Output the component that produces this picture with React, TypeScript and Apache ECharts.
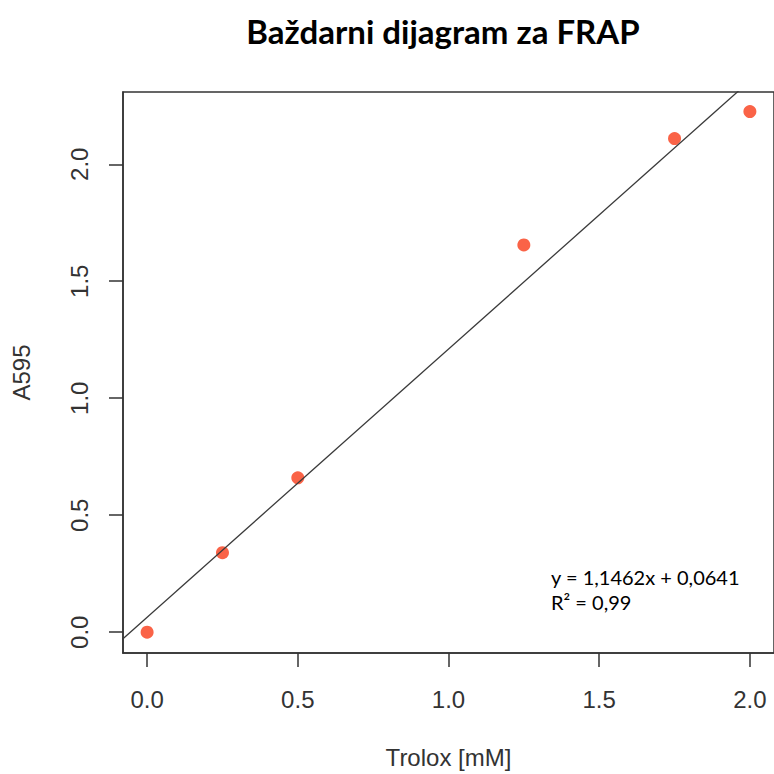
import React, { useEffect, useRef } from "react";
import * as echarts from "echarts";

const titleText = "Baždarni dijagram za FRAP";
const xName = "Trolox [mM]";
const yName = "A595";
const xValues = [0, 0.25, 0.5, 1.25, 1.75, 2.0];
const yValues = [0, 0.34, 0.66, 1.655, 2.11, 2.225];
const xTicks = [0, 0.5, 1.0, 1.5, 2.0];
const yTicks = [0, 0.5, 1.0, 1.5, 2.0];
const slope = 1.1462;
const intercept = 0.0641;
const fitX = [-0.2, 2.2];
const eqLine1 = "y = 1,1462x + 0,0641";
const eqLine2 = "R² = 0,99";

export default function App() {
  const ref = useRef<HTMLDivElement>(null);
  useEffect(() => {
    if (!ref.current) return;
    const chart = echarts.init(ref.current, null, { renderer: "svg" });
    const xMin = -0.08, xMax = 2.08;
    const yMin = -0.0888, yMax = 2.3088;
    const fitData = fitX.map((x) => [x, slope * x + intercept]);
    chart.setOption({
      animation: false,
      backgroundColor: "#ffffff",
      title: {
        text: titleText,
        left: 438,
        textAlign: "center",
        top: 9,
        textStyle: { fontFamily: "Lato", fontWeight: "bold", fontSize: 33, color: "#000" },
      },
      grid: {
        left: 123, top: 92, width: 653, height: 564,
        show: true, borderColor: "#333", borderWidth: 1.5, containLabel: false,
      },
      xAxis: {
        type: "value", min: xMin, max: xMax,
        name: xName, nameLocation: "middle", nameGap: 92,
        nameTextStyle: { fontFamily: "Liberation Sans", fontSize: 24, color: "#333" },
        splitLine: { show: false },
        axisLine: { show: true, onZero: false, lineStyle: { color: "#333", width: 1.5 } },
        axisTick: { show: true, inside: false, length: 14, customValues: xTicks, lineStyle: { color: "#333", width: 1.5 } },
        axisLabel: {
          customValues: xTicks, margin: 34, fontFamily: "Liberation Sans", fontSize: 24, color: "#333",
          formatter: (v: number) => v.toFixed(1),
        },
      },
      yAxis: {
        type: "value", min: yMin, max: yMax,
        name: yName, nameLocation: "middle", nameGap: 90, nameRotate: 90,
        nameTextStyle: { fontFamily: "Liberation Sans", fontSize: 24, color: "#333" },
        splitLine: { show: false },
        axisLine: { show: true, onZero: false, lineStyle: { color: "#333", width: 1.5 } },
        axisTick: { show: true, inside: false, length: 14, customValues: yTicks, lineStyle: { color: "#333", width: 1.5 } },
        axisLabel: {
          customValues: yTicks, margin: 32, rotate: 90, fontFamily: "Liberation Sans", fontSize: 24, color: "#333",
          formatter: (v: number) => v.toFixed(1),
        },
      },
      graphic: [
        {
          type: "text", left: 551, top: 564,
          style: { text: eqLine1 + "\n" + eqLine2, font: "20px Lato", fill: "#000", lineHeight: 25 },
        },
      ],
      series: [
        {
          type: "scatter",
          data: xValues.map((x, i) => [x, yValues[i]]),
          symbolSize: 13,
          itemStyle: { color: "#FA6347", opacity: 1 },
          z: 2,
        },
        {
          type: "line",
          data: fitData,
          showSymbol: false,
          clip: true,
          lineStyle: { color: "#3a3a3a", width: 1.3 },
          z: 3,
        },
      ],
    });
    return () => chart.dispose();
  }, []);
  return <div ref={ref} style={{ position: "fixed", left: 0, top: 0, width: 774, height: 774 }} />;
}
